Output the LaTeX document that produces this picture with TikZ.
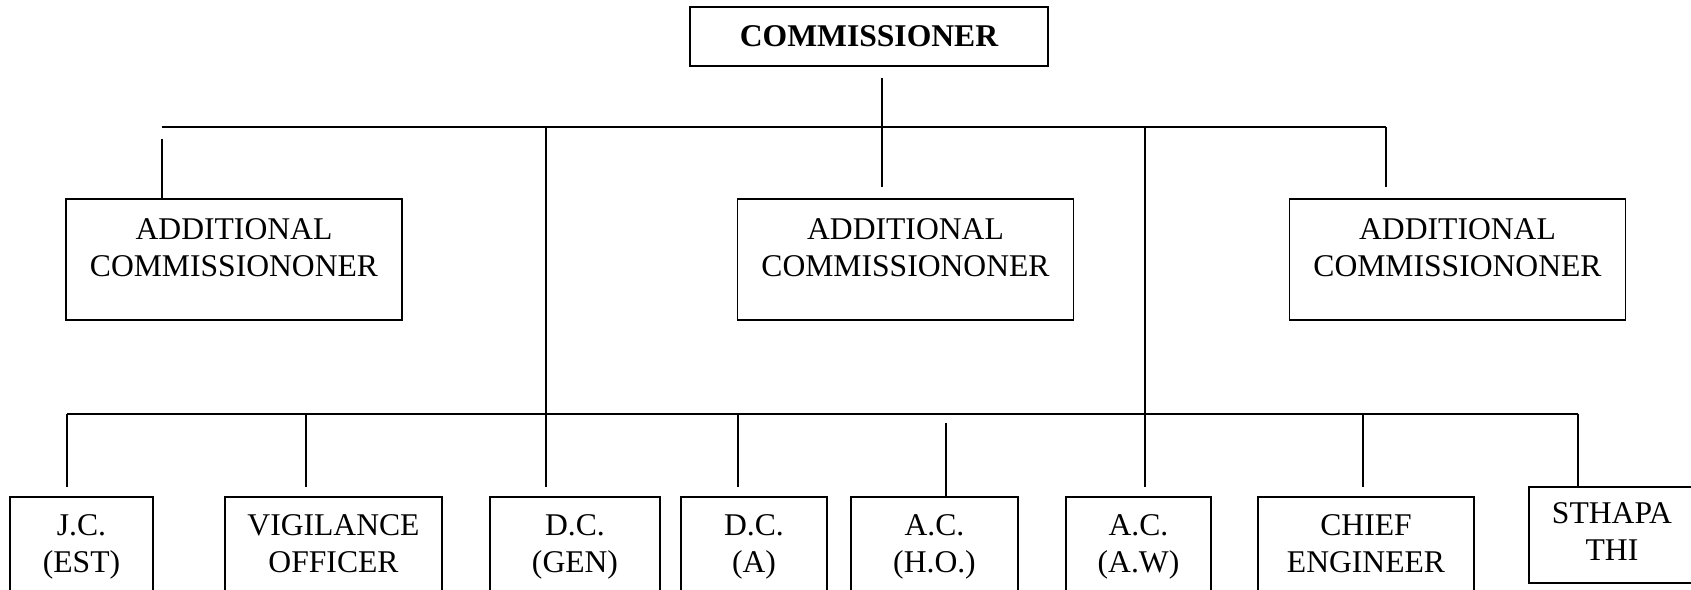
\documentclass[tikz,border=0pt]{standalone}
\usepackage{fontspec}
\setmainfont{Liberation Serif}
\newcommand{\botpad}[1]{\rule[-#1]{0pt}{#1}}

\begin{document}
\begin{tikzpicture}[x=0.02cm,y=-0.02cm,line width=1pt]
        \tikzstyle{post}=[rectangle,draw=black,align=center,inner sep=0pt,outer sep=0pt,font=\fontsize{18}{21}\selectfont]
        \tikzstyle{addl}=[post,minimum width=6.72cm,minimum height=2.42cm]
        \tikzstyle{lower}=[post,anchor=north,minimum height=2.2cm]
        \useasboundingbox (0,0) rectangle (1691,590);

        \node[post,minimum width=7.16cm,minimum height=1.18cm,font=\fontsize{18}{21}\selectfont\bfseries] (comm) at (869,36.5) {COMMISSIONER};

        \foreach \name/\x in {ac1/234, ac2/905.5, ac3/1457.5}
                \node[addl] (\name) at (\x,259.5) {ADDITIONAL\\COMMISSIONONER\botpad{0.48cm}};

        \foreach \name/\x/\w/\txt in {jc/81.5/143/{J.C.\\(EST)}, vig/333.5/217/{VIGILANCE\\OFFICER}, dcg/575/170/{D.C.\\(GEN)}, dca/754/146/{D.C.\\(A)}, acho/934.5/167/{A.C.\\(H.O.)}, acaw/1138.5/145/{A.C.\\(A.W)}, chief/1366/216/{CHIEF\\ENGINEER}}
                \node[lower,minimum width=\w*0.02cm] (\name) at (\x,497) {\txt\botpad{0.34cm}};
        % right edge runs off the page
        \node[post,line width=1.6pt,anchor=north west,minimum width=4.4cm,minimum height=1.92cm] (stha) at (1529,487)
                {\begin{tabular}{@{}c@{}}STHAPA\\THI\end{tabular}\hspace{1.08cm}};

        % bus lines
        \coordinate (bus-tl) at (162,127);
        \coordinate (bus-tr) at (1386,127);
        \coordinate (bus-bl) at (67,414);
        \coordinate (bus-br) at (1578,414);
        \draw (bus-tl) -- (bus-tr);
        \draw (bus-bl) -- (bus-br);

        % top level
        \draw[shorten <=0.24cm,shorten >=0.24cm] (comm.south -| 882,0) -- (ac2.north -| 882,0);
        \draw[shorten <=0.24cm] (bus-tl) -- (bus-tl |- ac1.north);
        \draw[shorten >=0.24cm] (bus-tr) -- (bus-tr |- ac3.north);
        \draw[shorten >=0.2cm] (bus-tl -| 546,0) -- (dcg.north -| 546,0);
        \draw[shorten >=0.2cm] (bus-tl -| 1145,0) -- (acaw.north -| 1145,0);

        % lower level
        \foreach \name/\x in {jc/67, vig/306, dca/738, chief/1363}
                \draw[shorten >=0.2cm] (bus-bl -| \x,0) -- (\name.north -| \x,0);
        \draw[shorten <=0.18cm] (bus-bl -| 946,0) -- (acho.north -| 946,0);
        \draw (bus-br) -- (bus-br |- stha.north);
\end{tikzpicture}
\end{document}
